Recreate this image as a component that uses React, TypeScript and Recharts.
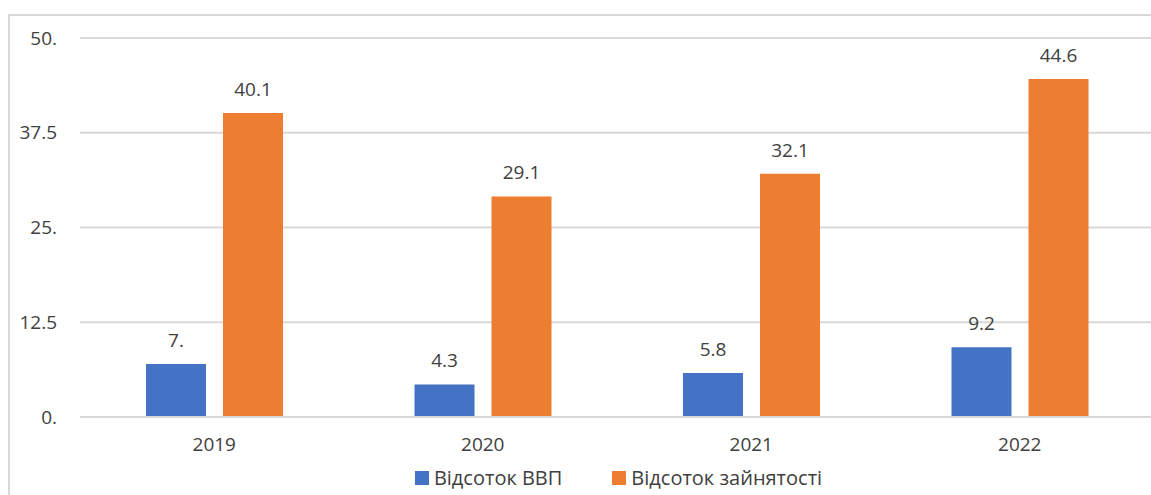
import React from "react";
import {
  BarChart,
  Bar,
  XAxis,
  YAxis,
  CartesianGrid,
  Legend,
  LabelList
} from "recharts";

// Дані діаграми
const years = ["2019", "2020", "2021", "2022"];
const gdpShare = [7.0, 4.3, 5.8, 9.2];
const employmentShare = [40.1, 29.1, 32.1, 44.6];
const yTicks = [0, 12.5, 25, 37.5, 50];

const chartData = years.map((year, i) => ({
  year,
  gdp: gdpShare[i],
  employment: employmentShare[i]
}));

// Excel-подібний формат: цілі числа з крапкою в кінці ("7.", "50.")
const fmt = (v: any) => {
  const n = Number(v);
  return Number.isInteger(n) ? `${n}.` : `${n}`;
};

const textColor = "#404040";
const gridColor = "#d9d9d9";
const font = "'Open Sans', 'Noto Sans', sans-serif";
const fs = 19;

// власна легенда: квадрат + підпис, великий проміжок між елементами
const renderLegend = (props: any) => {
  const { payload } = props;
  return (
    <div
      style={{
        display: "flex",
        justifyContent: "center",
        gap: 50,
        paddingTop: 9,
        paddingLeft: 83,
        fontFamily: font,
        fontSize: 20,
        lineHeight: "24px",
        color: textColor
      }}
    >
      {(payload || []).map((entry: any) => (
        <div key={entry.value} style={{ display: "flex", alignItems: "center" }}>
          <span
            style={{
              display: "inline-block",
              width: 14,
              height: 14,
              background: entry.color,
              marginRight: 5
            }}
          />
          <span>{entry.value}</span>
        </div>
      ))}
    </div>
  );
};

export default function App() {
  return (
    <div
      style={{
        position: "absolute",
        left: 0,
        top: 0,
        width: 1151,
        height: 495,
        overflow: "hidden",
        background: "#fff",
        fontFamily: font
      }}
    >
      {/* рамка області діаграми */}
      <div
        style={{
          position: "absolute",
          left: 8,
          top: 14,
          width: 1300,
          height: 700,
          border: `2px solid ${gridColor}`,
          boxSizing: "border-box"
        }}
      />
      <div style={{ position: "absolute", left: 0, top: 0 }}>
        <BarChart
          width={1160}
          height={495}
          data={chartData}
          margin={{ top: 38, right: 6, bottom: 0, left: 0 }}
          barSize={60}
          barGap={17}
        >
          <CartesianGrid vertical={false} stroke={gridColor} strokeWidth={2} />
          <XAxis
            dataKey="year"
            tickLine={false}
            axisLine={{ stroke: gridColor, strokeWidth: 2 }}
            tickSize={0}
            tickMargin={21}
            height={40}
            tick={{ fill: textColor, fontSize: fs, fontFamily: font }}
          />
          <YAxis
            domain={[0, 50]}
            ticks={yTicks}
            tickFormatter={fmt}
            tickLine={false}
            axisLine={false}
            tickSize={0}
            tickMargin={23}
            width={80}
            tick={{ fill: textColor, fontSize: fs, fontFamily: font }}
          />
          <Legend verticalAlign="bottom" height={38} content={renderLegend} />
          <Bar
            dataKey="gdp"
            name="Відсоток ВВП"
            fill="#4472C4"
            isAnimationActive={false}
          >
            <LabelList
              dataKey="gdp"
              position="top"
              offset={17}
              formatter={fmt}
              style={{ fill: textColor, fontSize: fs, fontFamily: font }}
            />
          </Bar>
          <Bar
            dataKey="employment"
            name="Відсоток зайнятості"
            fill="#ED7D31"
            isAnimationActive={false}
          >
            <LabelList
              dataKey="employment"
              position="top"
              offset={17}
              formatter={fmt}
              style={{ fill: textColor, fontSize: fs, fontFamily: font }}
            />
          </Bar>
        </BarChart>
      </div>
    </div>
  );
}
